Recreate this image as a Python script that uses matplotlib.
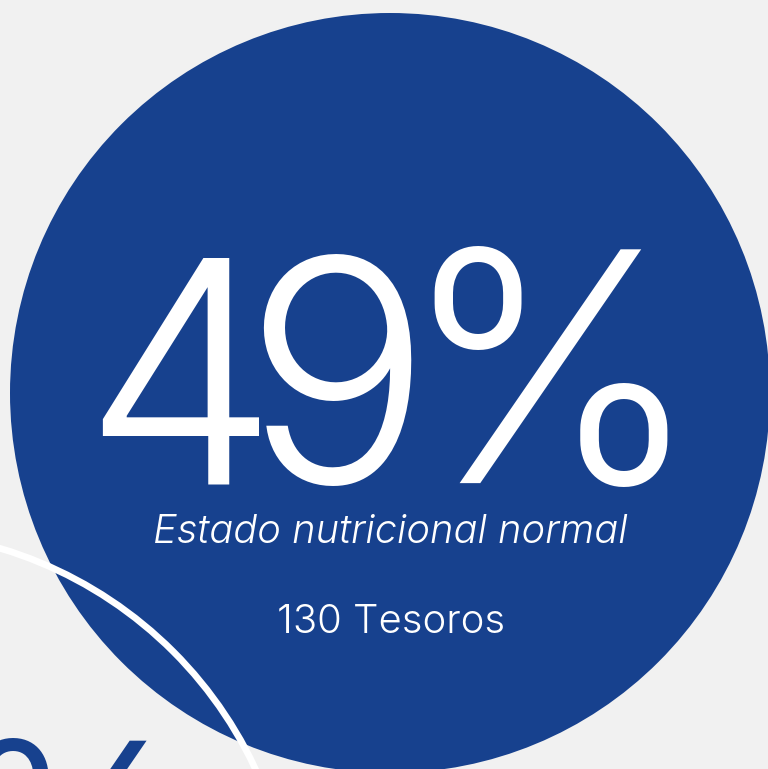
import matplotlib
matplotlib.use("Agg")
import matplotlib.pyplot as plt
from matplotlib.patches import Circle

# ---- data ----
percent_value = 49
category_label = "Estado nutricional normal"
count_value = 130
count_unit = "Tesoros"
neighbour_label = "%"   # partially visible neighbouring figure (digits off-canvas)

BG = "#f1f1f1"
BLUE = "#17418e"
WHITE = "#ffffff"

W, H = 768, 769
fig = plt.figure(figsize=(W / 100, H / 100), dpi=100, facecolor=BG)
ax = fig.add_axes([0, 0, 1, 1])
ax.set_xlim(0, W)
ax.set_ylim(H, 0)
ax.set_aspect("equal")
ax.axis("off")
ax.set_facecolor(BG)

# main blue disc
ax.add_patch(Circle((390, 393), 380, facecolor=BLUE, edgecolor="none", zorder=1))
# white outline of the neighbouring disc
ax.add_patch(Circle((-118, 943), 412, facecolor="none", edgecolor=WHITE,
                    linewidth=4.8, zorder=2))

fam = ["Inter", "DejaVu Sans"]
big = dict(color=WHITE, fontsize=224, family=fam, fontweight=300,
           ha="center", va="baseline", zorder=3)
# the big figure, set with tight tracking like the original
big_text = f"{percent_value}%"
big_x = [180, 337, 550]
big_size = [224, 224, 232]
for ch, x, s in zip(big_text, big_x, big_size):
    ax.text(x, 483, ch, **{**big, "fontsize": s})

ax.text(390, 543, category_label, color=WHITE, fontsize=28.7, family=fam,
        fontweight=300, style="italic", ha="center", va="baseline", zorder=3)
ax.text(391, 633, f"{count_value} {count_unit}", color=WHITE, fontsize=28.8, family=fam,
        fontweight=300, ha="center", va="baseline", zorder=3)
# neighbouring percentage, mostly off-canvas
ax.text(72, 933, neighbour_label, color=BLUE, fontsize=190, family=fam,
        fontweight=300, ha="center", va="baseline", zorder=3)

fig.savefig("out.png", dpi=100, facecolor=BG)
